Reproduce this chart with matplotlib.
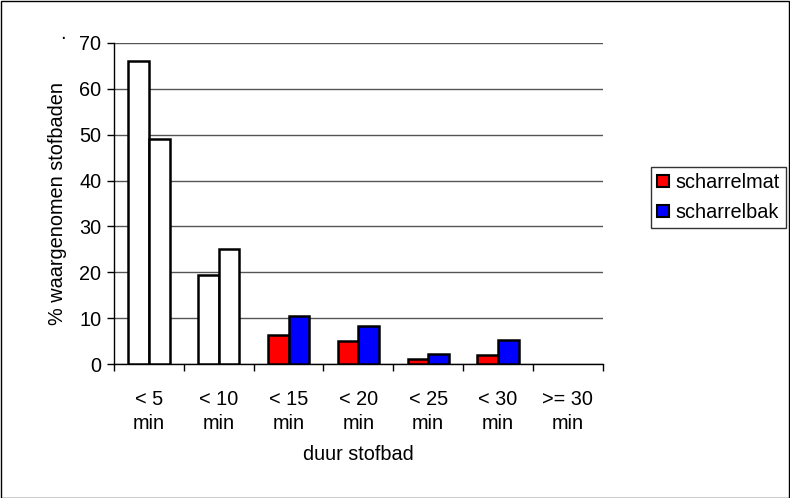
import numpy as np
import matplotlib.pyplot as plt

plt.rcParams['font.family'] = ['Liberation Sans', 'DejaVu Sans']

categories = ['< 5\nmin', '< 10\nmin', '< 15\nmin', '< 20\nmin', '< 25\nmin', '< 30\nmin', '>= 30\nmin']
scharrelmat = [66, 19.4, 6.3, 5.0, 1.2, 1.9, 0]
scharrelbak = [49, 25, 10.4, 8.3, 2.2, 5.2, 0]
n_white = 2  # first two groups drawn without fill

fs = 14.3
fig = plt.figure(figsize=(7.9, 4.98), dpi=100)
ax = fig.add_axes([0.1443, 0.269, 0.6187, 0.6447])

x = np.arange(len(categories))
w = 0.295
mat_colors = ['white' if i < n_white else '#ff0000' for i in range(len(x))]
bak_colors = ['white' if i < n_white else '#0000ff' for i in range(len(x))]
mat_lw = [1.8 if v > 0 else 0 for v in scharrelmat]
bak_lw = [1.8 if v > 0 else 0 for v in scharrelbak]
ax.bar(x - w / 2, scharrelmat, w, color=mat_colors, edgecolor='black', linewidth=mat_lw,
       label='scharrelmat', zorder=3)
ax.bar(x + w / 2, scharrelbak, w, color=bak_colors, edgecolor='black', linewidth=bak_lw,
       label='scharrelbak', zorder=3)

ax.set_xlim(-0.5, len(x) - 0.5)
ax.set_ylim(0, 70)
ax.set_yticks(range(0, 71, 10))
ax.set_xticks(x)
ax.set_xticklabels(categories, fontsize=fs, linespacing=1.28)
ax.set_xticks(np.arange(-0.5, len(x), 1), minor=True)
ax.tick_params(axis='x', which='major', length=0, pad=19)
ax.tick_params(axis='x', which='minor', length=5, width=1, direction='out')
ax.tick_params(axis='y', length=5, width=1, direction='out', labelsize=fs, pad=4)
ax.yaxis.grid(True, color='#555555', linewidth=1, zorder=0)
for s in ['top', 'right']:
    ax.spines[s].set_visible(False)
ax.spines['left'].set_linewidth(1)
ax.spines['bottom'].set_linewidth(1)

ax.set_ylabel('% waargenomen stofbaden', fontsize=fs, labelpad=9)
ax.set_xlabel('duur stofbad', fontsize=fs, labelpad=9)
fig.text(0.076, 0.922, '.', fontsize=fs)

labels = ['scharrelmat', 'scharrelbak']
mat_patch = plt.Rectangle((0, 0), 1, 1, facecolor='#ff0000', edgecolor='black', linewidth=1.5)
bak_patch = plt.Rectangle((0, 0), 1, 1, facecolor='#0000ff', edgecolor='black', linewidth=1.5)
leg = fig.legend([mat_patch, bak_patch], labels, loc='upper left',
                 bbox_to_anchor=(0.824, 0.665), fontsize=fs, frameon=True, fancybox=False,
                 edgecolor='black', handlelength=0.6, handleheight=0.6, handletextpad=0.3,
                 borderpad=0.32, labelspacing=0.55, borderaxespad=0)
leg.get_frame().set_linewidth(1)

fig.patches.append(plt.Rectangle((0.001, 0.001), 0.998, 0.997, transform=fig.transFigure,
                                 fill=False, edgecolor='black', linewidth=1))

fig.savefig('out.png', dpi=100)
